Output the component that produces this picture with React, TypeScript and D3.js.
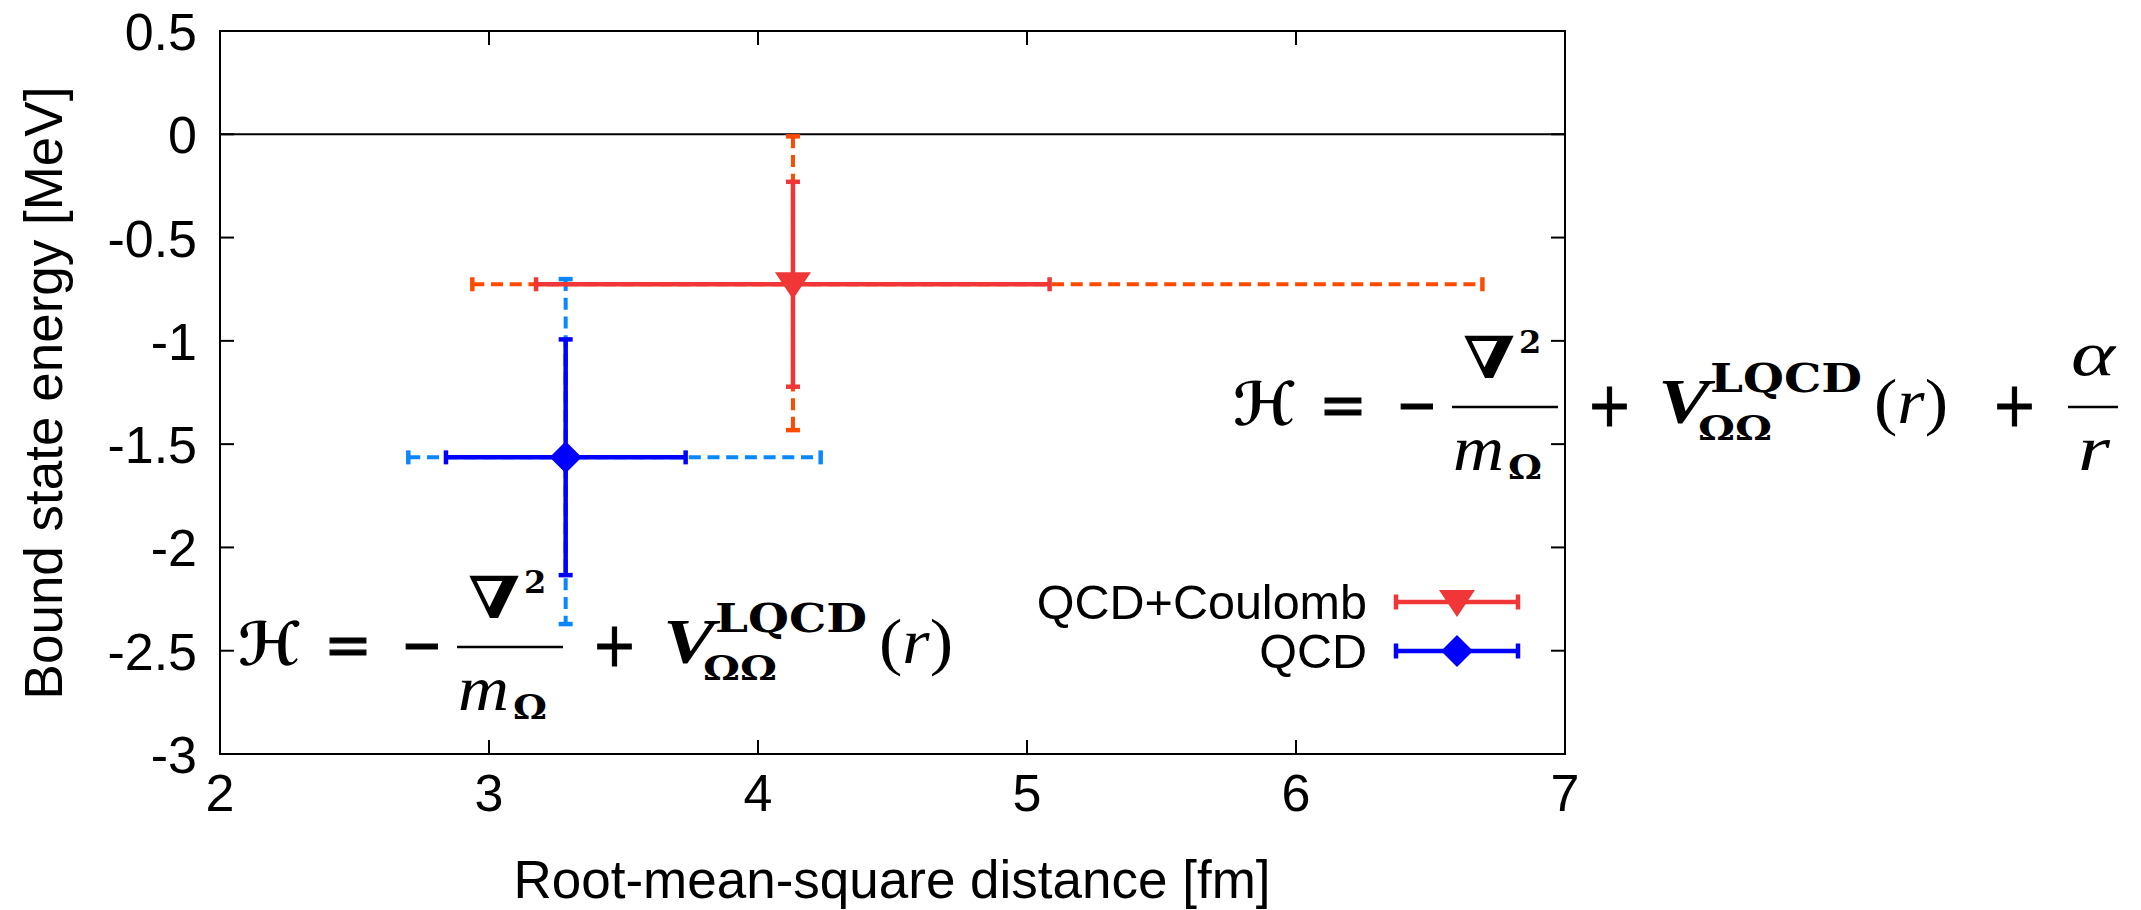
import React from "react";
import * as d3 from "d3";

const W = 2141;
const H = 910;

// ---- data ----
const xTickValues = [2, 3, 4, 5, 6, 7];
const xTickLabels = ["2", "3", "4", "5", "6", "7"];
const yTickValues = [0.5, 0, -0.5, -1, -1.5, -2, -2.5, -3];
const yTickLabels = ["0.5", "0", "-0.5", "-1", "-1.5", "-2", "-2.5", "-3"];

const seriesNames = ["QCD+Coulomb", "QCD"];
const rmsDistance = [4.13, 3.285];
const bindingEnergy = [-0.726, -1.564];
const rmsStatLow = [3.175, 2.84];
const rmsStatHigh = [5.084, 3.731];
const rmsSystLow = [2.938, 2.7];
const rmsSystHigh = [6.693, 4.233];
const energyStatHigh = [-0.23, -0.993];
const energyStatLow = [-1.222, -2.134];
const energySystHigh = [-0.01, -0.701];
const energySystLow = [-1.432, -2.371];

// ---- styles ----
const STYLE: Record<string, { solid: string; dashed: string; marker: string }> = {
  "QCD+Coulomb": { solid: "#f03636", dashed: "#ff4a00", marker: "triangle" },
  QCD: { solid: "#0000ff", dashed: "#0a86ff", marker: "diamond" },
};

const PL = 220, PR = 1565, PT = 31, PB = 754;
const x = d3.scaleLinear().domain([2, 7]).range([PL, PR]);
const y = d3.scaleLinear().domain([-3, 0.5]).range([PB, PT]);

const SANS = "'Liberation Sans', Arial, Helvetica, sans-serif";
const SERIF = "'Liberation Serif', 'Times New Roman', serif";
const DV = "'DejaVu Serif', serif";

const LW = 4.5;
const CAP = 7;
const DASH = "12,6.7";

function Marker({ kind, cx, cy, color }: { kind: string; cx: number; cy: number; color: string }) {
  const p = d3.path();
  if (kind === "triangle") {
    p.moveTo(cx - 18, cy - 12);
    p.lineTo(cx + 18, cy - 12);
    p.lineTo(cx, cy + 15);
  } else {
    p.moveTo(cx, cy - 16);
    p.lineTo(cx + 16, cy);
    p.lineTo(cx, cy + 16);
    p.lineTo(cx - 16, cy);
  }
  p.closePath();
  return <path d={p.toString()} fill={color} />;
}

function Point({ i }: { i: number }) {
  const st = STYLE[seriesNames[i]];
  const cx = x(rmsDistance[i]);
  const cy = y(bindingEnergy[i]);
  const xsl = x(rmsSystLow[i]), xsh = x(rmsSystHigh[i]);
  const xl = x(rmsStatLow[i]), xh = x(rmsStatHigh[i]);
  const ysh = y(energySystHigh[i]), ysl = y(energySystLow[i]);
  const yh = y(energyStatHigh[i]), yl = y(energyStatLow[i]);
  return (
    <g>
      <line x1={xsl} x2={xsh} y1={cy} y2={cy} stroke={st.dashed} strokeWidth={LW - 0.5} strokeDasharray={DASH} />
      <line x1={cx} x2={cx} y1={ysh} y2={ysl} stroke={st.dashed} strokeWidth={LW - 0.5} strokeDasharray={DASH} />
      <line x1={xsl} x2={xsl} y1={cy - CAP} y2={cy + CAP} stroke={st.dashed} strokeWidth={LW} />
      <line x1={xsh} x2={xsh} y1={cy - CAP} y2={cy + CAP} stroke={st.dashed} strokeWidth={LW} />
      <line x1={cx - CAP} x2={cx + CAP} y1={ysh} y2={ysh} stroke={st.dashed} strokeWidth={LW} />
      <line x1={cx - CAP} x2={cx + CAP} y1={ysl} y2={ysl} stroke={st.dashed} strokeWidth={LW} />
      <line x1={xl} x2={xh} y1={cy} y2={cy} stroke={st.solid} strokeWidth={LW} />
      <line x1={cx} x2={cx} y1={yh} y2={yl} stroke={st.solid} strokeWidth={LW} />
      <line x1={xl} x2={xl} y1={cy - CAP} y2={cy + CAP} stroke={st.solid} strokeWidth={LW} />
      <line x1={xh} x2={xh} y1={cy - CAP} y2={cy + CAP} stroke={st.solid} strokeWidth={LW} />
      <line x1={cx - CAP} x2={cx + CAP} y1={yh} y2={yh} stroke={st.solid} strokeWidth={LW} />
      <line x1={cx - CAP} x2={cx + CAP} y1={yl} y2={yl} stroke={st.solid} strokeWidth={LW} />
      <Marker kind={st.marker} cx={cx} cy={cy} color={st.solid} />
    </g>
  );
}

function Hamiltonian({ tx, ty, coulomb }: { tx: number; ty: number; coulomb: boolean }) {
  const adj = "spacingAndGlyphs";
  const op = { fontFamily: DV, fontSize: 62, stroke: "#000", strokeWidth: 1.2 };
  return (
    <g transform={`translate(${tx},${ty})`} fill="#000">
      <text x={0} y={2} fontFamily="'DejaVu Sans', sans-serif" fontStyle="italic" fontWeight="bold" fontSize={60} textLength={62} lengthAdjust={adj}>ℋ</text>
      <text x={86} y={3} {...op} textLength={48} lengthAdjust={adj}>=</text>
      <text x={163} y={3} {...op} textLength={42} lengthAdjust={adj}>−</text>
      <line x1={219} x2={325} y1={-16} y2={-16} stroke="#000" strokeWidth={2.4} />
      <text x={230} y={-45} fontFamily={DV} fontWeight="bold" fontSize={58} textLength={52} lengthAdjust={adj}>∇</text>
      <text x={286} y={-70} fontFamily={DV} fontWeight="bold" fontSize={32}>2</text>
      <text x={220} y={47} fontFamily={SERIF} fontStyle="italic" fontSize={64} textLength={51} lengthAdjust={adj}>m</text>
      <text x={275} y={56} fontFamily={DV} fontWeight="bold" fontSize={34} textLength={34} lengthAdjust={adj}>Ω</text>
      <text x={354} y={3} {...op} textLength={45} lengthAdjust={adj}>+</text>
      <text x={425} y={0} fontFamily={SERIF} fontStyle="italic" fontWeight="bold" fontSize={64} textLength={52} lengthAdjust={adj}>V</text>
      <text x={477} y={-31} fontFamily={DV} fontWeight="bold" fontSize={40} textLength={152} lengthAdjust={adj}>LQCD</text>
      <text x={465} y={17} fontFamily={DV} fontWeight="bold" fontSize={34} textLength={74} lengthAdjust={adj}>ΩΩ</text>
      <text x={641} y={0} fontFamily={SERIF} fontSize={64} textLength={74} lengthAdjust={adj}>
        (<tspan fontStyle="italic">r</tspan>)
      </text>
      {coulomb && (
        <g>
          <text x={759} y={3} {...op} textLength={45} lengthAdjust={adj}>+</text>
          <text x={838} y={-48} fontFamily={SERIF} fontStyle="italic" fontSize={64} textLength={44} lengthAdjust={adj}>α</text>
          <line x1={835} x2={885} y1={-16} y2={-16} stroke="#000" strokeWidth={2.4} />
          <text x={845} y={47} fontFamily={SERIF} fontStyle="italic" fontSize={64} textLength={32} lengthAdjust={adj}>r</text>
        </g>
      )}
    </g>
  );
}

export default function App() {
  const TICK = 14;
  const legendY = [602, 651];
  const lx1 = 1396, lx2 = 1518, lcx = 1457;
  return (
    <svg
      width={W}
      height={H}
      viewBox={`0 0 ${W} ${H}`}
      style={{ position: "absolute", left: 0, top: 0, background: "#fff" }}
    >
      <rect x={0} y={0} width={W} height={H} fill="#fff" />
      <line x1={PL} x2={PR} y1={y(0)} y2={y(0)} stroke="#000" strokeWidth={2} />
      {yTickValues.map((v) => (
        <g key={"yt" + v}>
          <line x1={PL} x2={PL + TICK} y1={y(v)} y2={y(v)} stroke="#000" strokeWidth={2} />
          <line x1={PR} x2={PR - TICK} y1={y(v)} y2={y(v)} stroke="#000" strokeWidth={2} />
        </g>
      ))}
      {xTickValues.map((v) => (
        <g key={"xt" + v}>
          <line x1={x(v)} x2={x(v)} y1={PB} y2={PB - TICK} stroke="#000" strokeWidth={2} />
          <line x1={x(v)} x2={x(v)} y1={PT} y2={PT + TICK} stroke="#000" strokeWidth={2} />
        </g>
      ))}
      <rect x={PL} y={PT} width={PR - PL} height={PB - PT} fill="none" stroke="#000" strokeWidth={2} />
      {yTickValues.map((v, i) => (
        <text key={"yl" + v} x={197} y={y(v) + 19} textAnchor="end" fontFamily={SANS} fontSize={52} fill="#000">
          {yTickLabels[i]}
        </text>
      ))}
      {xTickValues.map((v, i) => (
        <text key={"xl" + v} x={x(v)} y={811} textAnchor="middle" fontFamily={SANS} fontSize={52} fill="#000">
          {xTickLabels[i]}
        </text>
      ))}
      <text x={892} y={898} textAnchor="middle" fontFamily={SANS} fontSize={53} fill="#000">
        Root-mean-square distance [fm]
      </text>
      <text transform="translate(62,393) rotate(-90)" textAnchor="middle" fontFamily={SANS} fontSize={53} fill="#000">
        Bound state energy [MeV]
      </text>
      <Point i={1} />
      <Point i={0} />
      <Hamiltonian tx={238} ty={663} coulomb={false} />
      <Hamiltonian tx={1233} ty={423} coulomb={true} />
      {seriesNames.map((name, i) => {
        const st = STYLE[name];
        const ly = legendY[i];
        return (
          <g key={"lg" + name}>
            <text x={1367} y={ly + 17} textAnchor="end" fontFamily={SANS} fontSize={48.5} fill="#000">
              {name}
            </text>
            <line x1={lx1} x2={lx2} y1={ly} y2={ly} stroke={st.solid} strokeWidth={LW} />
            <line x1={lx1} x2={lx1} y1={ly - 7.5} y2={ly + 7.5} stroke={st.solid} strokeWidth={LW} />
            <line x1={lx2} x2={lx2} y1={ly - 7.5} y2={ly + 7.5} stroke={st.solid} strokeWidth={LW} />
            <Marker kind={st.marker} cx={lcx} cy={ly} color={st.solid} />
          </g>
        );
      })}
    </svg>
  );
}
